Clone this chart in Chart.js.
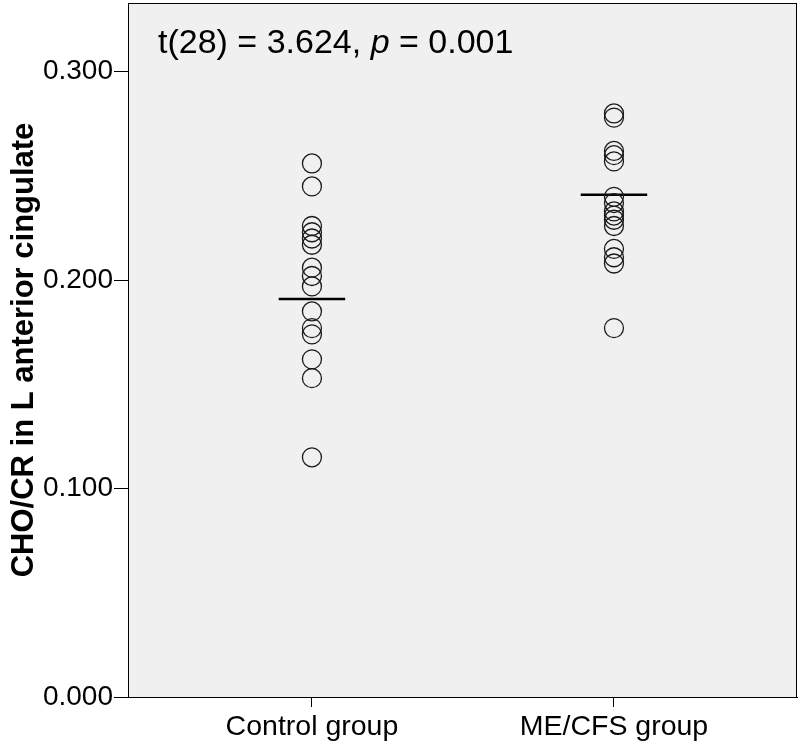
<!DOCTYPE html>
<html>
<head>
<meta charset="utf-8">
<script src="https://cdn.jsdelivr.net/npm/chart.js@4/dist/chart.umd.min.js"></script>
<style>
  body { margin: 0; background: #fff; }
  canvas { display: block; }
</style>
</head>
<body>
<canvas id="cingChart" width="800" height="744"></canvas>
<script>
// groups and values
const groups = ['Control group', 'ME/CFS group'];
const controlValues = [0.256, 0.245, 0.226, 0.223, 0.220, 0.217, 0.206, 0.202, 0.197,
                       0.185, 0.177, 0.174, 0.162, 0.153, 0.115];
const mecfsValues = [0.280, 0.278, 0.262, 0.260, 0.257, 0.240, 0.237, 0.233, 0.231,
                     0.229, 0.226, 0.215, 0.211, 0.208, 0.177];
const groupMeans = [0.191, 0.241];
const yTicks = [0.000, 0.100, 0.200, 0.300];
const annotation = ['t(28) = 3.624, ', 'p', ' = 0.001'];

const FONT = "'Liberation Sans', Arial, sans-serif";
const meanHalfWidth = 0.11;

const pointSet = (vals, g) => vals.map(v => ({ x: g + 1, y: v }));

const meanSets = groupMeans.map((m, i) => ({
    type: 'line',
    data: [{ x: i + 1 - meanHalfWidth, y: m }, { x: i + 1 + meanHalfWidth, y: m }],
    borderColor: '#000',
    borderWidth: 2.5,
    pointRadius: 0,
    fill: false
}));

// no extra room for labels at the axis ends
const noPad = s => { s.paddingTop = 0; s.paddingBottom = 0; s.paddingLeft = 0; s.paddingRight = 0; };

// plot background, frame and the t-test note
const framePlugin = {
    id: 'frame',
    beforeDraw(chart) {
        const { ctx, chartArea: a } = chart;
        ctx.save();
        ctx.fillStyle = '#f0f0f0';
        ctx.fillRect(a.left, a.top, a.right - a.left, a.bottom - a.top);
        ctx.restore();
    },
    afterDraw(chart) {
        const { ctx, chartArea: a } = chart;
        ctx.save();
        ctx.strokeStyle = '#000';
        ctx.lineWidth = 1;
        ctx.strokeRect(a.left + 0.5, a.top + 0.5, a.right - a.left - 1, a.bottom - a.top);
        ctx.fillStyle = '#000';
        ctx.textBaseline = 'alphabetic';
        let x = a.left + 30;
        const y = a.top + 50;
        annotation.forEach((s, i) => {
            ctx.font = (i === 1 ? 'italic ' : '') + '34px ' + FONT;
            ctx.fillText(s, x, y);
            x += ctx.measureText(s).width;
        });
        ctx.restore();
    }
};

const ctx = document.getElementById('cingChart').getContext('2d');
const cingChart = new Chart(ctx, {
    type: 'scatter',
    data: {
        datasets: [
            {
                data: pointSet(controlValues, 0),
                pointRadius: 9.5,
                pointHoverRadius: 9.5,
                pointBorderColor: '#1a1a1a',
                pointBackgroundColor: 'rgba(0,0,0,0)',
                pointBorderWidth: 1.3
            },
            {
                data: pointSet(mecfsValues, 1),
                pointRadius: 9.5,
                pointHoverRadius: 9.5,
                pointBorderColor: '#1a1a1a',
                pointBackgroundColor: 'rgba(0,0,0,0)',
                pointBorderWidth: 1.3
            },
            ...meanSets
        ]
    },
    options: {
        responsive: false,
        animation: false,
        layout: { autoPadding: false, padding: { top: 3, right: 3, left: 0, bottom: 0 } },
        scales: {
            x: {
                type: 'linear',
                min: 0.391,
                max: 2.606,
                afterBuildTicks: s => { s.ticks = groups.map((g, i) => ({ value: i + 1 })); },
                afterFit: s => { s.height = 47; noPad(s); },
                grid: { drawOnChartArea: false, drawTicks: true, tickLength: 10, color: '#000' },
                border: { display: true, color: '#000' },
                ticks: {
                    padding: 3,
                    color: '#000',
                    font: { family: FONT, size: 28.5 },
                    callback: v => groups[Math.round(v) - 1]
                }
            },
            y: {
                min: 0,
                max: 0.333,
                afterBuildTicks: s => { s.ticks = yTicks.map(v => ({ value: v })); },
                afterFit: s => { s.width = 128; noPad(s); },
                grid: { drawOnChartArea: false, drawTicks: true, tickLength: 14, color: '#000' },
                border: { display: true, color: '#000' },
                ticks: {
                    padding: 1,
                    color: '#000',
                    font: { family: FONT, size: 28 },
                    callback: v => v.toFixed(3)
                },
                title: {
                    display: true,
                    text: 'CHO/CR in L anterior cingulate',
                    color: '#000',
                    font: { family: FONT, size: 31, weight: 'bold' },
                    padding: { top: 6, bottom: 0 }
                }
            }
        },
        plugins: {
            legend: { display: false },
            tooltip: { enabled: false }
        }
    },
    plugins: [framePlugin]
});
</script>
</body>
</html>
